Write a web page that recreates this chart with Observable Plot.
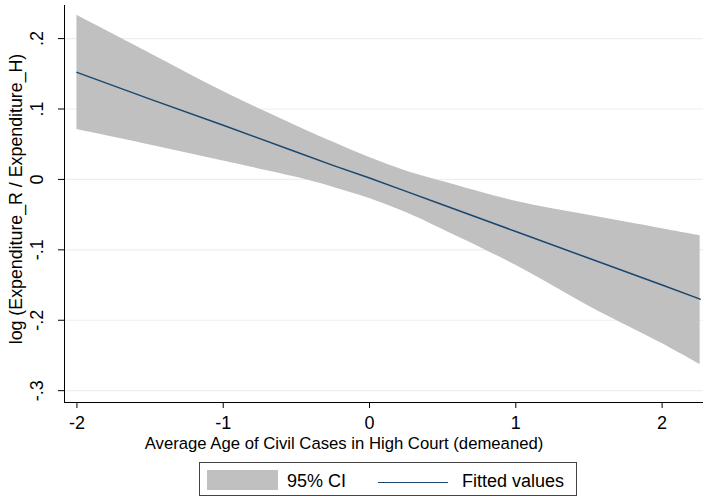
<!DOCTYPE html>
<html>
<head>
<meta charset="utf-8">
<script src="https://cdn.jsdelivr.net/npm/d3@7"></script>
<script src="https://cdn.jsdelivr.net/npm/@observablehq/plot@0.6"></script>
<style>
  body { margin: 0; background: #fff; font-family: "Liberation Sans", Arial, sans-serif; }
  #wrap { position: relative; width: 704px; height: 498px; }
  #legend { position: absolute; left: 199px; top: 462px; width: 376px; height: 32px;
            border: 1px solid #444; box-sizing: content-box; font-size: 18px; color: #000; line-height: normal; }
  #legend .sw { position: absolute; left: 7px; top: 7px; width: 71px; height: 20px; background: #c0c0c0; }
  #legend .t1 { position: absolute; left: 87px; top: 8px; white-space: nowrap; }
  #legend .ln { position: absolute; left: 178px; top: 19px; width: 70px; height: 0; border-top: 1.5px solid #1a476f; }
  #legend .t2 { position: absolute; left: 262px; top: 8px; white-space: nowrap; }
</style>
</head>
<body>
<div id="wrap">
  <div id="chart"></div>
  <div id="legend">
    <div class="sw"></div><div class="t1">95% CI</div>
    <div class="ln"></div><div class="t2">Fitted values</div>
  </div>
</div>
<script>
// Values
const ageX   = [-2, -1.5, -1, -0.5, -0.25, 0, 0.25, 0.5, 1, 1.5, 2, 2.26];
const fitted = [0.152, 0.114, 0.077, 0.039, 0.020, 0.002, -0.017, -0.036, -0.074, -0.112, -0.150, -0.170];
const ciLow  = [0.071, 0.049, 0.026, 0.003, -0.011, -0.027, -0.047, -0.071, -0.122, -0.180, -0.233, -0.263];
const ciHigh = [0.233, 0.179, 0.125, 0.076, 0.053, 0.031, 0.012, -0.003, -0.031, -0.051, -0.070, -0.080];
const xTicks = [-2, -1, 0, 1, 2];
const yTicks = [-0.3, -0.2, -0.1, 0, 0.1, 0.2];
const yTickLabels = ["-.3", "-.2", "-.1", "0", ".1", ".2"];

const rows = ageX.map((x, i) => ({x, fit: fitted[i], lo: ciLow[i], hi: ciHigh[i]}));
const xDomain = [-2.085, 2.283];
const yDomain = [-0.3168, 0.247];

const chart = Plot.plot({
  width: 704,
  height: 455,
  marginLeft: 64,
  marginRight: 1,
  marginTop: 5,
  marginBottom: 53,
  style: {fontFamily: "Liberation Sans, Arial, sans-serif", fontSize: "18px", color: "#000", background: "#fff"},
  x: {domain: xDomain},
  y: {domain: yDomain},
  marks: [
    Plot.gridY(yTicks, {stroke: "#e8f0f2", strokeOpacity: 1, strokeWidth: 1.2}),
    Plot.areaY(rows, {x: "x", y1: "lo", y2: "hi", fill: "#c0c0c0", fillOpacity: 1, curve: "catmull-rom"}),
    Plot.lineY(rows, {x: "x", y: "fit", stroke: "#1a476f", strokeWidth: 1.5}),
    Plot.ruleX([xDomain[0]], {stroke: "#000", strokeWidth: 1}),
    Plot.ruleY([yDomain[0]], {stroke: "#000", strokeWidth: 1}),
    Plot.axisX(xTicks, {tickSize: 6, tickPadding: 8, tickFormat: d => String(d), fontSize: 18,
      label: null}),
    Plot.text(["Average Age of Civil Cases in High Court (demeaned)"], {
      frameAnchor: "bottom", dx: -40, dy: 46, fontSize: 16.7, lineAnchor: "bottom", fill: "#000"}),
    Plot.axisY(yTicks, {tickSize: 6, tickPadding: 16, tickRotate: -90, fontSize: 18,
      tickFormat: d => yTickLabels[yTicks.indexOf(d)], label: null}),
    Plot.text(["log (Expenditure_R / Expenditure_H)"], {
      frameAnchor: "left", textAnchor: "middle", dx: -48, dy: -5, rotate: -90, fontSize: 17.8,
      lineAnchor: "middle", fill: "#000"})
  ]
});
document.getElementById("chart").appendChild(chart);
</script>
</body>
</html>
